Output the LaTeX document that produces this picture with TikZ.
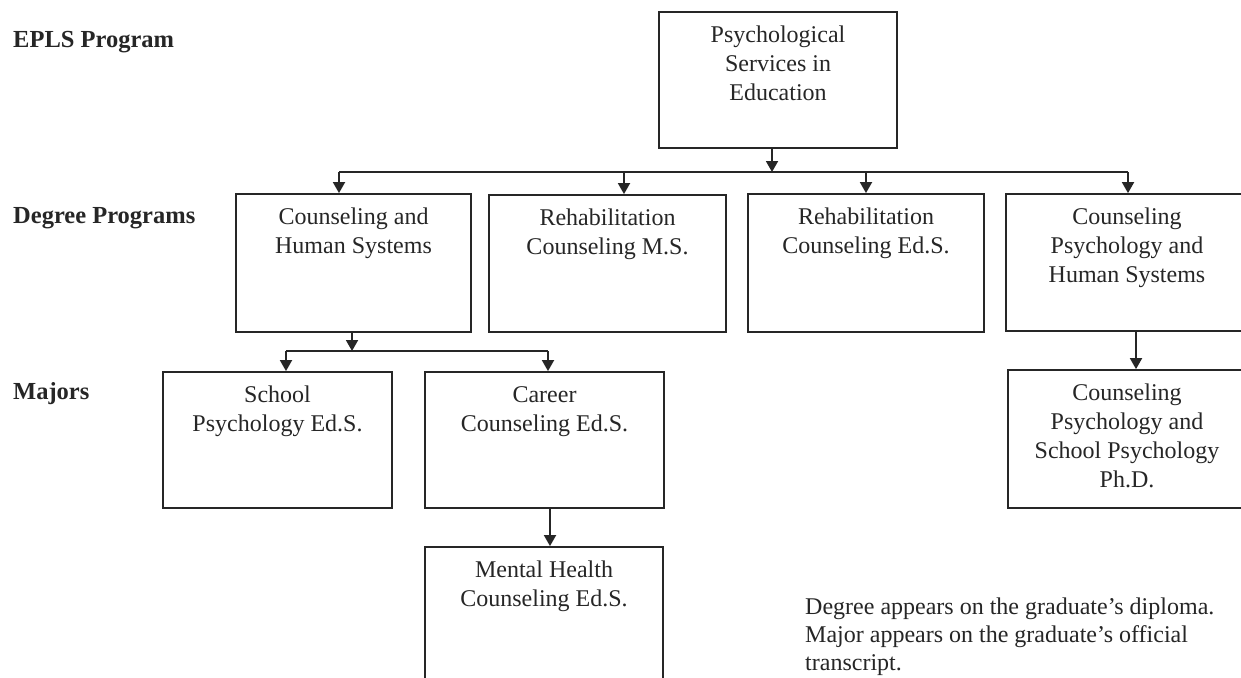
\documentclass[tikz,border=0pt]{standalone}
\usepackage{fontspec}
\setmainfont{Liberation Serif}
\usetikzlibrary{arrows.meta}
\definecolor{ink}{HTML}{262626}
\begin{document}
\begin{tikzpicture}[x=1pt,y=-1pt,
  box/.style={draw=ink, line width=1.8pt, inner sep=0pt},
  txt/.style={align=center, inner sep=0pt, anchor=north, yshift=-11pt, font=\fontsize{24}{29}\selectfont, text=ink},
  lab/.style={anchor=base west, inner sep=0pt, font=\fontsize{24.5}{29}\selectfont\bfseries, text=ink},
  note/.style={anchor=base west, inner sep=0pt, font=\fontsize{24}{28}\selectfont, text=ink},
  ln/.style={draw=ink, line width=1.8pt},
  arr/.style={draw=ink, line width=1.8pt, -{Triangle[length=11pt,width=12pt]}}]
\useasboundingbox[fill=white] (0,0) rectangle (1241,677);

% side labels
\node[lab] (l1) at (13,48) {EPLS Program};
\node[lab] (l2) at (13,223) {Degree Programs};
\node[lab] (l3) at (13,399) {Majors};

% boxes
\node[box, minimum width=238pt, minimum height=136pt] (tb) at (778,80) {};
\node[box, minimum width=235pt, minimum height=138pt] (b1) at (353.5,263) {};
\node[box, minimum width=237pt, minimum height=137pt] (b2) at (607.5,263.5) {};
\node[box, minimum width=236pt, minimum height=138pt] (b3) at (866,263) {};
\node[box, minimum width=242pt, minimum height=137pt] (b4) at (1127,262.5) {};
\node[box, minimum width=229pt, minimum height=136pt] (m1) at (277.5,440) {};
\node[box, minimum width=239pt, minimum height=136pt] (m2) at (544.5,440) {};
\node[box, minimum width=238pt, minimum height=143pt] (m3) at (544,618.5) {};
\node[box, minimum width=238pt, minimum height=138pt] (m4) at (1127,439) {};

% box texts
\node[txt] (ttb) at (tb.north) {\rule{0pt}{20pt}Psychological\\Services in\\Education};
\node[txt] (tb1) at (b1.north) {\rule{0pt}{20pt}Counseling and\\Human Systems};
\node[txt] (tb2) at (b2.north) {\rule{0pt}{20pt}Rehabilitation\\Counseling M.S.};
\node[txt] (tb3) at (b3.north) {\rule{0pt}{20pt}Rehabilitation\\Counseling Ed.S.};
\node[txt] (tb4) at (b4.north) {\rule{0pt}{20pt}Counseling\\Psychology and\\Human Systems};
\node[txt] (tm1) at (m1.north) {\rule{0pt}{20pt}School\\Psychology Ed.S.};
\node[txt] (tm2) at (m2.north) {\rule{0pt}{20pt}Career\\Counseling Ed.S.};
\node[txt] (tm3) at (m3.north) {\rule{0pt}{20pt}Mental Health\\Counseling Ed.S.};
\node[txt] (tm4) at (m4.north) {\rule{0pt}{20pt}Counseling\\Psychology and\\School Psychology\\Ph.D.};

% top bus
\coordinate (j1) at (772,172);
\coordinate (d1) at (339,172);
\coordinate (d2) at (624,172);
\coordinate (d3) at (866,172);
\coordinate (d4) at (1128,172);
\draw[arr] (j1 |- tb.south) -- (j1);
\draw[ln] (d1) -- (d4);
\draw[arr] (d1) -- (d1 |- b1.north);
\draw[arr] (d2) -- (d2 |- b2.north);
\draw[arr] (d3) -- (d3 |- b3.north);
\draw[arr] (d4) -- (d4 |- b4.north);

% majors bus
\coordinate (k1) at (352,351);
\coordinate (e1) at (286,351);
\coordinate (e2) at (548,351);
\draw[arr] (k1 |- b1.south) -- (k1);
\draw[ln] (e1) -- (e2);
\draw[arr] (e1) -- (e1 |- m1.north);
\draw[arr] (e2) -- (e2 |- m2.north);

% single links
\coordinate (c1) at (550,508);
\draw[arr] (c1 |- m2.south) -- (c1 |- m3.north);
\coordinate (c2) at (1136,331);
\draw[arr] (c2 |- b4.south) -- (c2 |- m4.north);

% note
\node[note] (n1) at (805,614) {Degree appears on the graduate’s diploma.};
\node[note] (n2) at (805,642) {Major appears on the graduate’s official};
\node[note] (n3) at (805,670) {transcript.};
\end{tikzpicture}
\end{document}
